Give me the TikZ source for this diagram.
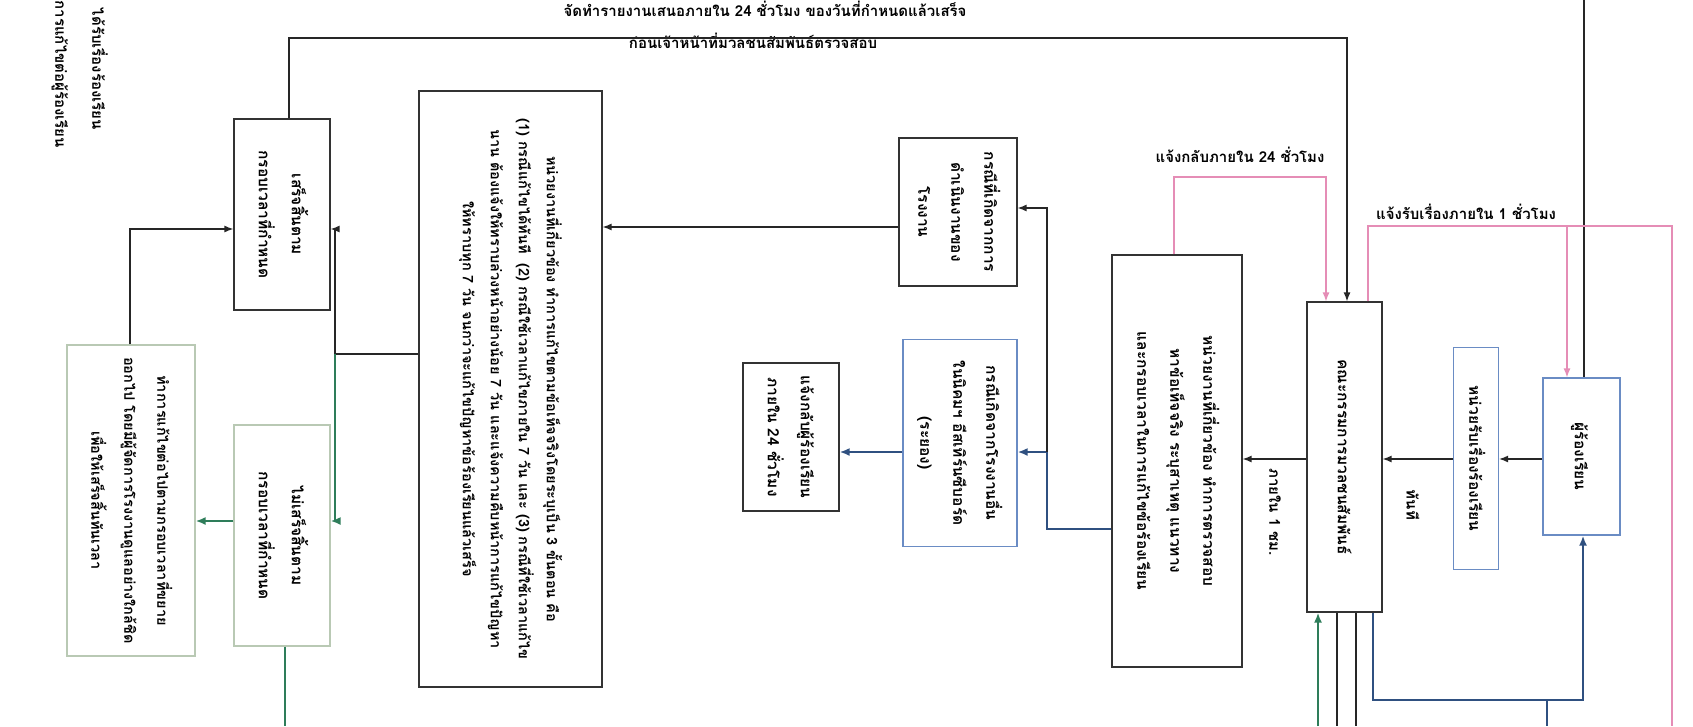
\documentclass[tikz,border=0pt]{standalone}
\usepackage{fontspec}
\setmainfont[Script=Thai]{Loma}
\usetikzlibrary{arrows.meta}
\definecolor{lineblue}{HTML}{2F5080}
\definecolor{boxblue}{HTML}{6A8CC4}
\definecolor{linepink}{HTML}{E58DB6}
\definecolor{linegreen}{HTML}{2E7D5A}
\definecolor{boxgrey}{HTML}{B9C9B4}
\newcommand{\vtext}[1]{\rotatebox{-90}{\begin{tabular}{@{}c@{}}#1\end{tabular}}}
\tikzstyle{box} = [rectangle, draw=black!80, line width=1.2pt, inner sep=0pt, font=\bfseries\fontsize{15.5}{33}\selectfont]
\tikzstyle{bluebox} = [box, draw=boxblue]
\tikzstyle{greybox} = [box, draw=boxgrey]
\tikzstyle{lbl} = [inner sep=0pt, font=\bfseries\fontsize{15}{18}\selectfont]
\tikzstyle{line} = [line width=1.3pt, black!85]
\tikzstyle{arrow} = [line, -{Latex[length=9pt,width=7pt]}]
\tikzstyle{blueline} = [line width=2.5pt, lineblue]
\tikzstyle{bluearrow} = [blueline, -{Latex[length=10pt,width=8pt]}]
\tikzstyle{greenline} = [line width=2.5pt, linegreen]
\tikzstyle{greenarrow} = [greenline, -{Latex[length=10pt,width=8pt]}]
\tikzstyle{pinkline} = [line width=1.3pt, linepink]
\tikzstyle{pinkarrow} = [pinkline, -{Latex[length=9pt,width=7pt]}]
\begin{document}
\begin{tikzpicture}[x=1pt, y=-1pt]
    \useasboundingbox[fill=white] (0,0) rectangle (1693,726);
    % boxes
    \node [bluebox, minimum width=77, minimum height=157] at (1581.5,456.5) (comp) {\vtext{ผู้ร้องเรียน}};
    \node [bluebox, minimum width=45, minimum height=222] at (1476,458.5) (recv) {\vtext{หน่วยรับเรื่องร้องเรียน}};
    \node [box, minimum width=75, minimum height=310] at (1344.5,457) (comm) {\vtext{คณะกรรมการมวลชนสัมพันธ์}};
    \node [box, minimum width=130, minimum height=412] at (1177,461) (dept) {\vtext{หน่วยงานที่เกี่ยวข้อง ทำการตรวจสอบ\\หาข้อเท็จจริง ระบุสาเหตุ แนวทาง\\และกรอบเวลาในการแก้ไขข้อร้องเรียน}};
    \node [box, minimum width=118, minimum height=148] at (958,212) (own) {\vtext{กรณีที่เกิดจากการ\\ดำเนินงานของ\\โรงงาน}};
    \node [bluebox, minimum width=114, minimum height=207] at (960,443) (other) {\vtext{กรณีเกิดจากโรงงานอื่น\\ในนิคมฯ อีสเทิร์นซีบอร์ด\\(ระยอง)}};
    \node [box, minimum width=96, minimum height=148] at (791,437) (reply) {\vtext{แจ้งกลับผู้ร้องเรียน\\ภายใน 24 ชั่วโมง}};
    \node [box, minimum width=183, minimum height=596, font=\bfseries\fontsize{14.5}{28}\selectfont] at (510.5,389) (fix) {\vtext{หน่วยงานที่เกี่ยวข้อง ทำการแก้ไขตามข้อเท็จจริงโดยระบุเป็น 3 ขั้นตอน คือ\\(1) กรณีแก้ไขได้ทันที\ \ (2) กรณีใช้เวลาแก้ไขภายใน 7 วัน และ (3) กรณีที่ใช้เวลาแก้ไข\\นาน ต้องแจ้งให้ทราบล่วงหน้าอย่างน้อย 7 วัน และแจ้งความคืบหน้าการแก้ไขปัญหา\\ให้ทราบทุก 7 วัน จนกว่าจะแก้ไขปัญหาข้อร้องเรียนแล้วเสร็จ}};
    \node [box, minimum width=96, minimum height=191] at (282,214.5) (done) {\vtext{เสร็จสิ้นตาม\\กรอบเวลาที่กำหนด}};
    \node [greybox, minimum width=96, minimum height=221] at (282,535.5) (notdone) {\vtext{ไม่เสร็จสิ้นตาม\\กรอบเวลาที่กำหนด}};
    \node [greybox, minimum width=128, minimum height=311, font=\bfseries\fontsize{14.5}{33}\selectfont] at (131,500.5) (extend) {\vtext{ทำการแก้ไขต่อไปตามกรอบเวลาที่ขยาย\\ออกไป โดยมีผู้จัดการโรงงานดูแลอย่างใกล้ชิด\\เพื่อให้เสร็จสิ้นทันเวลา}};
    % labels
    \node [lbl] at (765,9) (rep1) {จัดทำรายงานเสนอภายใน 24 ชั่วโมง ของวันที่กำหนดแล้วเสร็จ};
    \node [lbl] at (753,41) (rep2) {ก่อนเจ้าหน้าที่มวลชนสัมพันธ์ตรวจสอบ};
    \node [lbl] at (1240,155) (back24) {แจ้งกลับภายใน 24 ชั่วโมง};
    \node [lbl] at (1466,212) (recv1) {แจ้งรับเรื่องภายใน 1 ชั่วโมง};
    \node [lbl] at (1413,505) (now) {\rotatebox{-90}{ทันที}};
    \node [lbl] at (1275,512) (hour1) {\rotatebox{-90}{ภายใน 1 ชม.}};
    \node [lbl, anchor=south] at (100,130) (side1) {\rotatebox{-90}{ได้รับเรื่องร้องเรียน}};
    \node [lbl, anchor=south] at (60,148) (side2) {\rotatebox{-90}{การแก้ไขต่อผู้ร้องเรียน}};
    % free ends and bends
    \coordinate (ctop) at (1584,0);
    \coordinate (p1) at (1368,226);
    \coordinate (p2) at (1672,226);
    \coordinate (p3) at (1672,726);
    \coordinate (p4) at (1567,226);
    \coordinate (q1) at (1174,177);
    \coordinate (q2) at (1326,177);
    \coordinate (r1) at (289,38);
    \coordinate (r2) at (1347,38);
    \coordinate (h) at (0,459);
    \coordinate (j1) at (1047,529);
    \coordinate (j2) at (1047,452);
    \coordinate (j3) at (1047,208);
    \coordinate (k) at (0,227);
    \coordinate (m1) at (335,354);
    \coordinate (m2) at (335,229);
    \coordinate (m3) at (335,521);
    \coordinate (n1) at (130,229);
    \coordinate (g1) at (285,726);
    \coordinate (b1) at (1318,726);
    \coordinate (b2) at (1337,726);
    \coordinate (b3) at (1356,726);
    \coordinate (b4) at (1373,700);
    \coordinate (b5) at (1583,700);
    \coordinate (b6) at (1547,700);
    \coordinate (b7) at (1547,726);
    % connectors
    \draw [line] (ctop) -- (ctop |- comp.north);
    \draw [pinkline] (comm.north -| p1) -- (p1) -- (p2) -- (p3);
    \draw [pinkarrow] (p4) -- (p4 |- comp.north);
    \draw [pinkarrow] (dept.north -| q1) -- (q1) -- (q2) -- (q2 |- comm.north);
    \draw [arrow] (done.north -| r1) -- (r1) -- (r2) -- (r2 |- comm.north);
    \draw [arrow] (comp.west |- h) -- (recv.east |- h);
    \draw [arrow] (recv.west |- h) -- (comm.east |- h);
    \draw [arrow] (comm.west |- h) -- (dept.east |- h);
    \draw [bluearrow] (dept.west |- j1) -- (j1) -- (j2) -- (other.east |- j2);
    \draw [arrow] (j2) -- (j3) -- (own.east |- j3);
    \draw [bluearrow] (other.west |- j2) -- (reply.east |- j2);
    \draw [arrow] (own.west |- k) -- (fix.east |- k);
    \draw [arrow] (fix.west |- m1) -- (m1) -- (m2) -- (done.east |- m2);
    \draw [greenarrow] (m1) -- (m3) -- (notdone.east |- m3);
    \draw [greenarrow] (notdone.west |- m3) -- (extend.east |- m3);
    \draw [arrow] (extend.north -| n1) -- (n1) -- (done.west |- n1);
    \draw [greenline] (notdone.south -| g1) -- (g1);
    \draw [greenarrow] (b1) -- (b1 |- comm.south);
    \draw [line] (comm.south -| b2) -- (b2);
    \draw [line] (comm.south -| b3) -- (b3);
    \draw [bluearrow] (comm.south -| b4) -- (b4) -- (b5) -- (b5 |- comp.south);
    \draw [blueline] (b6) -- (b7);
\end{tikzpicture}
\end{document}
